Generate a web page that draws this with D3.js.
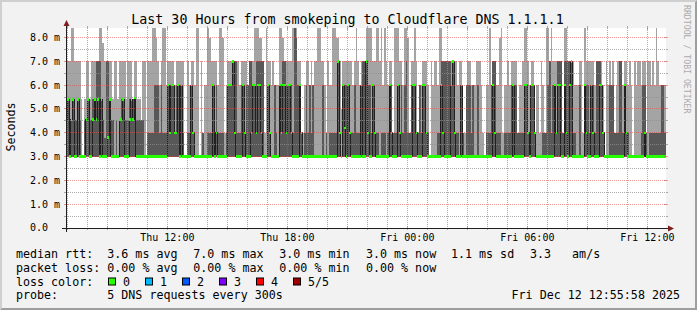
<!DOCTYPE html>
<html>
<head>
<meta charset="utf-8">
<script src="https://cdn.jsdelivr.net/npm/d3@7"></script>
<style>
html, body { margin:0; padding:0; background:#f2f2f2; }
svg { display:block; font-family:"DejaVu Sans Mono", monospace; }
svg text { white-space:pre; }
</style>
</head>
<body>
<svg id="drawing_region"></svg>
<script>
// one value per 300s step, in ms (median, 4th of 5 pings, slowest ping)
const medianRtt = [
 4.55,5.4,3,4.55,5.4,3,3,5.4,3,3, 3,3,4.55,5.4,3,3,4.55,5.4,4.55,5.4,
 3,5.4,3,3,3,3.8,5.4,3,3,3, 3,3,4.55,4.55,5.4,3,3,3,4.55,5.4,
 4.55,5.45,3,3,3,3,3,3,3,3, 3,3,3,3,3,3,3,3,3,3,
 3,6,4,6,6,4,4,6,3,6, 3,3,3,3,3,6,4,3,3,3,
 3,3,3,3,3,3,3,3,6,3, 4,3,3,3,3,3,3,6,6,6,
 7,4,3,3,3,3,6,4,3,3, 3,4,6,6,4,6,6,4,3,3,
 3,6,4,3,3,3,3,3,6,4, 6,6,4,6,6,4,3,3,3,3,
 6,4,3,3,3,3,3,3,3,3, 3,3,3,3,3,3,3,3,3,3,
 3,3,3,7,4,3,6,4.2,3,6, 4,3,3,3,3,3,3,6,3,3,
 7,4,3,3,6,4,3,3,3,3, 3,3,3,3,6,4,3,3,3,6,
 4,3,3,3,3,3,3,3,6,6, 4,3,3,3,6,6,4,3,3,3,
 3,3,3,3,3,6,4,3,3,3, 3,6,7,4,3,3,3,6,3,3,
 3,3,3,3,3,3,3,3,3,3, 3,3,3,3,3,3,6,4,3,3,
 3,3,3,3,3,3,3,3,6,3, 3,3,3,3,3,6,6,4,3,6,
 6,4,3,3,3,3,3,3,3,3, 3,3,3,6,4,6,6,3,3,6,
 4,3,6,7,3,3,3,3,3,3, 3,6,4,3,3,6,4,3,3,3,
 6,6,4,3,3,3,3,3,3,3, 3,3,3,3,3,6,4,3,3,3,
 3,3,3,3,3,3,3,4,3,3, 3,3,3,3,3,3,3,3,3,3
];
const upperRtt = [
 4.55,5.4,4.55,4.55,5.4,4.55,4.55,5.4,4.55,3, 3,4.55,4.55,5.4,4.55,4.55,5.4,5.4,7,7,
 7,5.4,4.55,3.77,7,7,5.4,4.55,4.55,3, 4.55,3,4.55,5.4,5.4,4.55,4.55,4.55,5.4,5.4,
 5.4,5.45,4.55,4.55,4.55,4.55,4.55,3,3,4, 4,4,4,6,6,6,4,6,4,4,
 4,6,6,6,6,4,6,6,6,6, 4,3,3,4,4,6,4,3,3,3,
 3,3,4,3,3,4,4,4,6,4, 6,4,4,4,4,3,4,6,6,6,
 7,7,7,4,4,6,6,4,6,6, 7,7,6,6,7,7,7,7,7,3,
 3,6,4,3,3,6,4,3,6,6, 7,7,6,6,6,6,4,9,8,6,
 6,4,3,4,6,4,6,4,6,3, 3,3,3,3,6,3,4,3,4,4,
 4,4,4,7,4,3,6,6,6,6, 4,4,4,6,4,4,4,6,7,7,
 7,6,6,4,6,4,4,4,3,4, 4,4,3,4,6,6,4,4,4,6,
 4,6,4,6,7,4,4,6,6,6, 4,4,6,4,6,6,4,4,3,3,
 3,3,3,4,4,7,7,7,7,7, 7,6,7,4,4,4,3,6,4,3,
 6,6,6,4,6,3,3,6,3,3, 3,3,4,4,4,6,7,7,4,4,
 4,3,3,4,4,4,4,6,6,6, 6,4,4,4,4,6,6,4,4,6,
 6,4,3,3,3,3,4,4,4,6, 7,4,6,6,4,7,7,7,4,7,
 7,7,7,7,4,4,3,3,6,3, 3,6,6,6,4,6,6,4,7,7,
 7,6,4,3,3,3,6,6,6,4, 4,4,7,7,4,6,4,4,3,3,
 3,3,3,3,3,4,6,6,4,3, 4,4,4,4,4,4,4,6,6,4
];
const maxRtt = [
 7,7,7,9,9,7,7,7,7,5.4, 3,5.4,7,7,5.4,7,7,7,7,7,
 9,9,7.77,7,7,7,7,7,5.4,7, 7,5.4,7,7,7,7,5.4,7,7,7,
 5.4,7,7,5.4,5.4,4.55,7,7,3,7, 7,7,9,9,8,7,6,7,9,9,
 6,7,7,7,7,6,7,7,7,7, 7,3,3,7,6,7,7,6,9,9,
 3,7,4,6,6,9,8,7,7,7, 7,6,9,9,8,4,6,7,7,7,
 7,7,7,7,6,7,7,7,7,6, 7,7,7,9,9,9,8,8,7,4,
 9,7,7,6,7,6,6,6,9,9, 8,7,7,7,7,7,9,9,9,7,
 7,4,4,6,7,7,6,7,6,7, 7,9,9,7,7,6,4,7,6,6,
 9,9,8,8,7,5,7,7,7,7, 7,7,6,7,9,7,6,7,7,7,
 9,9,9,9,7,7,9,9,7,9, 6,9,7,6,7,7,4,9,9,9,
 7,7,6,9,9,8,4,7,7,9, 7,4,6,6,7,7,7,6,3,7,
 6,7,7,6,9,9,7,7,7,7, 7,7,7,7,7,6,7,7,4,4,
 6,7,7,6,6,6,7,7,7,6, 4,3,6,6,9,6,7,7,6,6,
 8,9,4,6,6,7,6,7,7,7, 7,4,6,6,7,9,9,7,6,7,
 7,4,6,6,4,7,6,4,9,9, 7,9,7,7,7,7,7,7,4,9,
 9,7,7,7,7,6,6,6,7,7, 4,9,7,7,7,7,7,6,7,7,
 7,7,6,3,7,6,7,6,7,4, 6,7,7,7,6,7,7,6,7,6,
 3,7,6,7,7,6,7,7,4,7, 7,6,7,6,9,7,6,6,6,6
];
const minRtt = 3.0;

const yTicks = [0, 1, 2, 3, 4, 5, 6, 7, 8];
const titleText = "Last 30 Hours from smokeping to Cloudflare DNS 1.1.1.1";
const rttLegend = ["3.6 ms avg", "7.0 ms max", "3.0 ms min", "3.0 ms now", "1.1 ms sd", "3.3   am/s"];
const lossLegend = ["0.00 % avg", "0.00 % max", "0.00 % min", "0.00 % now"];
const lossLabels = ["0", "1", "2", "3", "4", "5/5"];
const lossColors = ["#26ff00", "#00b8ff", "#0059ff", "#7e00ff", "#ff0000", "#a10000"];
const probeText = "5 DNS requests every 300s";
const stampText = "Fri Dec 12 12:55:58 2025";

const stepMs = 300 * 1000;
const firstStep = Date.UTC(2025, 11, 11, 6, 55, 0);
const graphStart = new Date(Date.UTC(2025, 11, 11, 6, 55, 58));
const graphEnd = new Date(Date.UTC(2025, 11, 12, 12, 55, 58));

class SmokeGraph {

    constructor( config ) {
        this.config = config;
        this.data = medianRtt.map( (m, i) => ({
            t0: new Date(firstStep + i * stepMs),
            t1: new Date(firstStep + (i + 1) * stepMs),
            median: m, upper: upperRtt[i], max: maxRtt[i]
        }));
        this.init();
    }

    init() {
        let self = this;
        const c = self.config;

        self.svg = d3.select( c.parent )
            .attr('width', c.width)
            .attr('height', c.height);

        self.xscale = d3.scaleUtc()
            .domain( [graphStart, graphEnd] )
            .range( [c.plot.left, c.plot.right] );

        self.yscale = d3.scaleLinear()
            .domain( [0, 8.4] )
            .range( [c.plot.bottom, c.plot.top] );
    }

    render() {
        let self = this;
        const c = self.config;
        const x = self.xscale, y = self.yscale;
        const px = v => Math.floor(v) + 0.5;

        // frame
        self.svg.append('rect').attr('width', c.width).attr('height', c.height).attr('fill', '#f2f2f2');
        self.svg.append('path').attr('fill', '#cfcfcf')
            .attr('d', `M0,0H${c.width}L${c.width-2},2H2V${c.height-2}L0,${c.height}Z`);
        self.svg.append('path').attr('fill', '#9e9e9e')
            .attr('d', `M${c.width},0V${c.height}H0L2,${c.height-2}H${c.width-2}V2Z`);

        self.svg.append('defs').append('clipPath').attr('id', 'plotclip')
            .append('rect')
            .attr('x', c.plot.left).attr('y', c.plot.top)
            .attr('width', c.plot.right - c.plot.left)
            .attr('height', c.plot.bottom - c.plot.top);

        self.svg.append('rect')
            .attr('x', c.plot.left).attr('y', c.plot.top)
            .attr('width', c.plot.right - c.plot.left)
            .attr('height', c.plot.bottom - c.plot.top)
            .attr('fill', '#ffffff');

        const chart = self.svg.append('g').attr('clip-path', 'url(#plotclip)');

        // smoke: outer band (min..max) and inner band (min..4th ping)
        chart.append('g').selectAll('rect')
            .data(self.data.filter(d => d.max > minRtt))
            .join('rect')
            .attr('x', d => x(d.t0))
            .attr('width', d => x(d.t1) - x(d.t0))
            .attr('y', d => y(d.max))
            .attr('height', d => y(minRtt) - y(d.max))
            .attr('fill', '#a4a4a4')
            .attr('shape-rendering', 'crispEdges');

        chart.append('g').selectAll('rect')
            .data(self.data.filter(d => d.upper > minRtt))
            .join('rect')
            .attr('x', d => x(d.t0))
            .attr('width', d => x(d.t1) - x(d.t0))
            .attr('y', d => y(d.upper))
            .attr('height', d => y(minRtt) - y(d.upper))
            .attr('fill', '#585858')
            .attr('shape-rendering', 'crispEdges');

        // median line
        const pts = self.data.map(d => [d.t0, d.median]);
        pts.push([self.data[self.data.length - 1].t1, self.data[self.data.length - 1].median]);
        chart.append('path')
            .datum(pts)
            .attr('fill', 'none')
            .attr('stroke', '#202020')
            .attr('stroke-width', 1)
            .attr('shape-rendering', 'crispEdges')
            .attr('d', d3.line().curve(d3.curveStepAfter).x(d => x(d[0])).y(d => y(d[1])));

        // grid (dotted, over the smoke)
        const grid = self.svg.append('g');
        const minorCol = 'rgba(143,143,143,0.75)', majorCol = 'rgba(222,79,79,0.6)';
        const gridLine = (x1, y1, x2, y2, col) => grid.append('line')
            .attr('x1', x1).attr('y1', y1).attr('x2', x2).attr('y2', y2)
            .attr('stroke', col).attr('stroke-width', 1).attr('stroke-dasharray', '1 1');
        const halfTicks = d3.range(1, 17).map(v => v / 2).filter(v => v % 1 !== 0);
        halfTicks.forEach(v => gridLine(c.plot.left, px(y(v)), c.plot.right, px(y(v)), minorCol));
        yTicks.filter(v => v > 0).forEach(v => gridLine(c.plot.left, px(y(v)), c.plot.right, px(y(v)), majorCol));
        const hours = d3.utcHour.range(graphStart, graphEnd);
        hours.forEach(h => {
            const major = h.getUTCHours() % 3 === 0;
            gridLine(px(x(h)), c.plot.top, px(x(h)), c.plot.bottom, major ? majorCol : minorCol);
        });

        // median markers coloured by loss (all 0 loss)
        self.svg.append('g').attr('clip-path', 'url(#plotclip)')
            .selectAll('rect')
            .data(self.data)
            .join('rect')
            .attr('x', d => x(d.t0))
            .attr('width', d => x(d.t1) - x(d.t0))
            .attr('y', d => y(d.median) - 1.2)
            .attr('height', 2.4)
            .attr('fill', lossColors[0])
            .attr('shape-rendering', 'crispEdges');

        // ticks on the frame of the plot
        const ticks = self.svg.append('g').attr('stroke-width', 1);
        const tick = (x1, y1, x2, y2, col) => ticks.append('line')
            .attr('x1', x1).attr('y1', y1).attr('x2', x2).attr('y2', y2).attr('stroke', col);
        halfTicks.forEach(v => {
            tick(c.plot.left - 2, px(y(v)), c.plot.left, px(y(v)), minorCol);
            tick(c.plot.right, px(y(v)), c.plot.right + 2, px(y(v)), minorCol);
        });
        yTicks.forEach(v => {
            tick(c.plot.left - 2, px(y(v)), c.plot.left + 2, px(y(v)), majorCol);
            tick(c.plot.right - 2, px(y(v)), c.plot.right + 2, px(y(v)), majorCol);
        });
        hours.forEach(h => {
            const major = h.getUTCHours() % 3 === 0;
            const col = major ? majorCol : minorCol;
            tick(px(x(h)), c.plot.bottom - (major ? 2 : 0), px(x(h)), c.plot.bottom + 2, col);
            tick(px(x(h)), c.plot.top - 2, px(x(h)), c.plot.top + (major ? 2 : 0), col);
        });

        // axes with arrows
        const ax = self.svg.append('g');
        ax.append('line').attr('x1', c.plot.left - 4).attr('x2', c.plot.right + 3)
            .attr('y1', px(y(0))).attr('y2', px(y(0))).attr('stroke', '#1f1f1f');
        ax.append('line').attr('x1', px(c.plot.left)).attr('x2', px(c.plot.left))
            .attr('y1', c.plot.bottom + 4).attr('y2', c.plot.top - 4).attr('stroke', '#1f1f1f');
        ax.append('path').attr('fill', '#801f1f')
            .attr('d', `M${c.plot.right + 2},${px(y(0)) - 3}L${c.plot.right + 8},${px(y(0))}L${c.plot.right + 2},${px(y(0)) + 3}Z`);
        ax.append('path').attr('fill', '#801f1f')
            .attr('d', `M${px(c.plot.left) - 3},${c.plot.top - 2}L${px(c.plot.left)},${c.plot.top - 8}L${px(c.plot.left) + 3},${c.plot.top - 2}Z`);

        // axis labels
        self.svg.append('g').selectAll('text')
            .data(yTicks)
            .join('text')
            .attr('x', 30)
            .attr('y', d => y(d) + 3.4)
            .attr('font-size', '10px')
            .attr('fill', '#000')
            .text(d => d === 0 ? d.toFixed(1) : d.toFixed(1) + ' m');

        const labelTicks = hours.filter(h => h.getUTCHours() % 6 === 0);
        self.svg.append('g').selectAll('text')
            .data(labelTicks)
            .join('text')
            .attr('x', d => x(d))
            .attr('y', 241)
            .attr('text-anchor', 'middle')
            .attr('font-size', '10px')
            .attr('fill', '#000')
            .text(d3.utcFormat('%a %H:%M'));

        self.svg.append('text')
            .attr('transform', 'translate(14.5,127) rotate(-90)')
            .attr('text-anchor', 'middle')
            .attr('font-size', '11.66px')
            .text('Seconds');

        self.svg.append('text')
            .attr('x', 347.5).attr('y', 24)
            .attr('text-anchor', 'middle')
            .attr('font-size', '13.3px')
            .text(titleText);

        self.svg.append('text')
            .attr('transform', 'translate(684,5) rotate(90)')
            .attr('font-size', '8.2px')
            .attr('fill', '#ababab')
            .text('RRDTOOL / TOBI OETIKER');

        // legend
        const lg = self.svg.append('g').attr('font-size', '11.66px').attr('fill', '#000');
        const rows = c.legend.rows;
        lg.append('text').attr('x', 16).attr('y', rows[0]).text('median rtt:');
        rttLegend.forEach((s, i) => lg.append('text').attr('x', c.legend.cols[i]).attr('y', rows[0]).text(s));
        lg.append('text').attr('x', 16).attr('y', rows[1]).text('packet loss:');
        lossLegend.forEach((s, i) => lg.append('text').attr('x', c.legend.cols[i]).attr('y', rows[1]).text(s));
        lg.append('text').attr('x', 16).attr('y', rows[2]).text('loss color:');
        lossLabels.forEach((s, i) => {
            const bx = 108.5 + i * 37;
            lg.append('rect').attr('x', bx).attr('y', rows[2] - 7.5).attr('width', 7).attr('height', 7)
                .attr('fill', lossColors[i]).attr('stroke', '#000').attr('stroke-width', 1);
            lg.append('text').attr('x', bx + 14.5).attr('y', rows[2]).text(s);
        });
        lg.append('text').attr('x', 16).attr('y', rows[3]).text('probe:');
        lg.append('text').attr('x', c.legend.cols[0]).attr('y', rows[3]).text(probeText);
        lg.append('text').attr('x', 680).attr('y', rows[3]).attr('text-anchor', 'end').text(stampText);
    }
}

const config = {
    parent: '#drawing_region',
    width: 697,
    height: 310,
    plot: {left: 66, right: 666, top: 28, bottom: 228},
    legend: {rows: [258.3, 271.8, 285.5, 299.3], cols: [107.3, 193.3, 279.3, 366, 451, 530]}
};

const graph = new SmokeGraph( config );
graph.render();
</script>
</body>
</html>
